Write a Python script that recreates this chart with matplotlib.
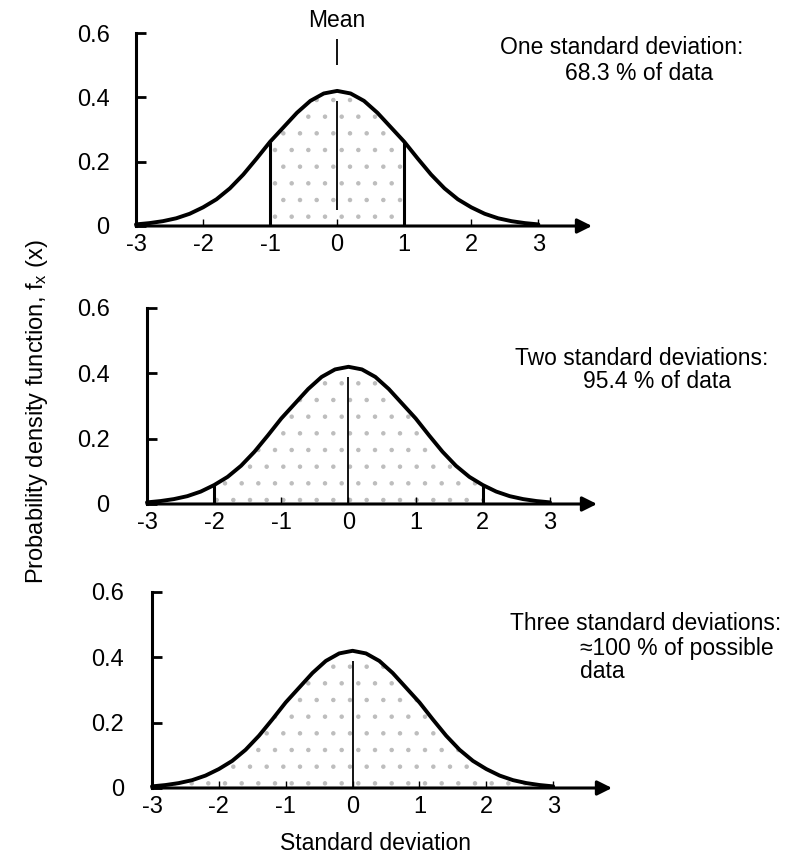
import numpy as np
import matplotlib
matplotlib.use("Agg")
import matplotlib.pyplot as plt

plt.rcParams['font.family'] = ['Liberation Sans', 'DejaVu Sans']
plt.rcParams['hatch.linewidth'] = 0.8

# curve (density vs. standard deviations)
sd = [-3.0, -2.8, -2.6, -2.4, -2.2, -2.0, -1.8, -1.6, -1.4, -1.2, -1.0,
      -0.8, -0.6, -0.4, -0.2, 0.0, 0.2, 0.4, 0.6, 0.8,
      1.0, 1.2, 1.4, 1.6, 1.8, 2.0, 2.2, 2.4, 2.6, 2.8, 3.0]
pdf = [0.005, 0.009, 0.015, 0.024, 0.038, 0.058, 0.083, 0.117, 0.160, 0.210, 0.262,
       0.307, 0.352, 0.389, 0.412, 0.420, 0.412, 0.389, 0.352, 0.307,
       0.262, 0.210, 0.160, 0.117, 0.083, 0.058, 0.038, 0.024, 0.015, 0.009, 0.005]

x_ticks = [-3, -2, -1, 0, 1, 2, 3]
y_ticks = [0, 0.2, 0.4, 0.6]
bounds = [1, 2, 3]
captions = [["One standard deviation:", "68.3 % of data"],
            ["Two standard deviations:", "95.4 % of data"],
            ["Three standard deviations:", "\u2248100 % of possible", "data"]]

W, H = 796, 859
fig = plt.figure(figsize=(W / 100, H / 100), dpi=100)

# panel placement in pixels: left, right, y of 0, y of 0.6, x max, y-label pad
panels = [
    (136, 592, 226, 33, 3.8, 19),
    (147, 597, 504, 308, 3.7, 27),
    (152, 612, 788, 592, 3.88, 20),
]
# caption line positions in pixels
caption_pos = [[(500, 47), (565, 73)],
               [(515, 358), (583, 382)],
               [(510, 623), (580, 648), (580, 672)]]

sd = np.array(sd)
pdf = np.array(pdf)

for i, (l, r, y0, y6, xmax, ypad) in enumerate(panels):
    ax = fig.add_axes([l / W, 1 - y0 / H, (r - l) / W, (y0 - y6) / H])
    ax.set_xlim(-3, xmax)
    ax.set_ylim(0, 0.6)
    for s in ['top', 'right', 'bottom']:
        ax.spines[s].set_visible(False)
    ax.spines['left'].set_linewidth(2.2)
    ax.patch.set_alpha(0)

    ax.plot(sd, pdf, color='black', lw=2.8, clip_on=False, solid_capstyle='round')

    k = bounds[i]
    m = (sd >= -k) & (sd <= k)
    ax.fill_between(sd[m], 0, pdf[m], facecolor='none', edgecolor='#bdbdbd',
                    hatch='.', linewidth=0)
    if k < 3:
        for b in (-k, k):
            ax.vlines(b, 0, pdf[np.isclose(sd, b)][0], color='black', lw=2.2)
    top = 0.05 if i == 0 else 0.0
    ax.vlines(0, top, 0.39, color='black', lw=1.3)

    ax.annotate('', xy=(xmax, 0), xytext=(-3, 0), annotation_clip=False,
                arrowprops=dict(arrowstyle='-|>', lw=2.2, color='black',
                                mutation_scale=22, shrinkA=0, shrinkB=0))

    ax.set_xticks(x_ticks)
    ax.set_xticklabels([str(t) for t in x_ticks])
    ax.set_yticks(y_ticks)
    ax.set_yticklabels(['0', '0.2', '0.4', '0.6'])
    ax.tick_params(axis='x', direction='in', length=5, width=1, pad=6, labelsize=17)
    ax.tick_params(axis='y', direction='in', length=7, width=2, pad=ypad, labelsize=17)

    for txt, (cx, cy) in zip(captions[i], caption_pos[i]):
        fig.text(cx / W, 1 - cy / H, txt, fontsize=16.5, va='center', ha='left')

    if i == 0:
        ax.vlines(0, 0.50, 0.58, color='black', lw=1.3, clip_on=False)
        ax.text(0, 0.64, 'Mean', ha='center', va='center', fontsize=16.5)

fig.text(37 / W, 1 - 412 / H, 'Probability density function, $\\mathregular{f_x}$ (x)',
         rotation=90, ha='center', va='center', fontsize=17)
fig.text(376 / W, 1 - 843 / H, 'Standard deviation', ha='center', va='center', fontsize=16.5)

fig.savefig('out.png', dpi=100)
